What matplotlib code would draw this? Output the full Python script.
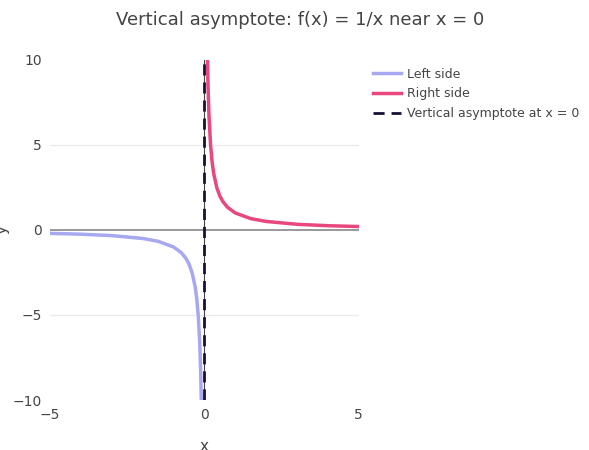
import matplotlib.pyplot as plt

left_x = [-5, -4, -3, -2, -1.5, -1, -0.75, -0.6, -0.5, -0.4, -0.3, -0.25, -0.2, -0.15, -0.12, -0.1]
left_y = [-0.2, -0.25, -0.333, -0.5, -0.667, -1, -1.333, -1.667, -2, -2.5, -3.333, -4, -5, -6.667, -8.333, -10]
right_x = [0.1, 0.12, 0.15, 0.2, 0.25, 0.3, 0.4, 0.5, 0.6, 0.75, 1, 1.5, 2, 3, 4, 5]
right_y = [10, 8.333, 6.667, 5, 4, 3.333, 2.5, 2, 1.667, 1.333, 1, 0.667, 0.5, 0.333, 0.25, 0.2]
asym_x = [0, 0]
asym_y = [-10, 10]

fig = plt.figure(figsize=(5.89, 4.5), dpi=100)
ax = fig.add_axes([0.085, 0.111, 0.524, 0.756])

ax.axhline(0, color='#888888', lw=1.2, zorder=1)
ax.axvline(0, color='#444444', lw=0.8, zorder=1)
for yv in (-5, 5):
    ax.axhline(yv, color='#ebebeb', lw=1, zorder=0)

l1, = ax.plot(left_x, left_y, color='#a8a8f0', lw=2.5, zorder=2)
l2, = ax.plot(right_x, right_y, color='#e8487e', lw=2.5, zorder=2)
l3, = ax.plot(asym_x, asym_y, color='#1a1036', lw=2, ls=(0, (4, 2.5)), zorder=3)

ax.set_xlim(-5, 5)
ax.set_ylim(-10, 10)
ax.set_xticks([-5, 0, 5])
ax.set_yticks([-10, -5, 0, 5, 10])
ax.set_xticklabels(['−5', '0', '5'])
ax.set_yticklabels(['−10', '−5', '0', '5', '10'])
for s in ax.spines.values():
    s.set_visible(False)
ax.tick_params(length=0, colors='#444444', labelsize=10, pad=6)
ax.set_xlabel('x', color='#444444', fontsize=11, labelpad=12)
ax.set_ylabel('y', color='#444444', fontsize=11, labelpad=2)

fig.text(0.51, 0.955, 'Vertical asymptote: f(x) = 1/x near x = 0', ha='center', va='center',
         fontsize=13, color='#444444')

fig.legend([l1, l2, l3], ['Left side', 'Right side', 'Vertical asymptote at x = 0'],
           loc='upper left', bbox_to_anchor=(0.615, 0.875), frameon=False,
           fontsize=9, labelcolor='#444444', handlelength=2.2, handletextpad=0.5,
           labelspacing=0.55)

fig.savefig('out.png', dpi=100)
